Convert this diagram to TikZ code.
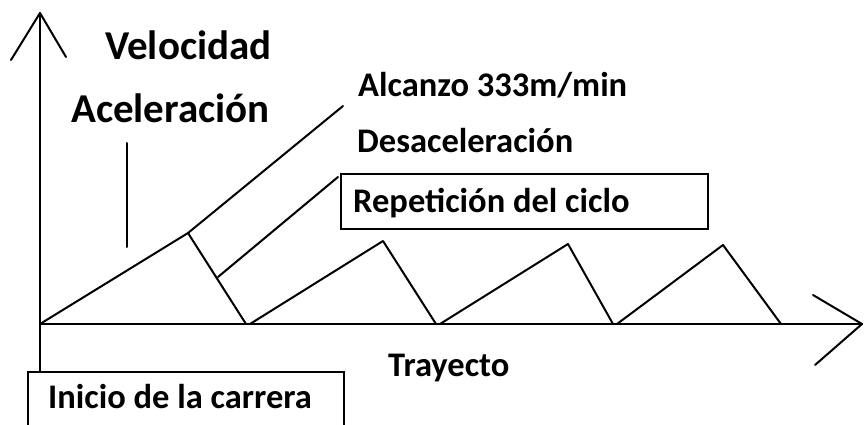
\documentclass[tikz,border=0pt]{standalone}
\usepackage{fontspec}
\setmainfont{Carlito}
\begin{document}
\begin{tikzpicture}[x=1pt,y=-1pt,
  ln/.style={line width=2pt,line cap=round,line join=round},
  big/.style={font=\bfseries\fontsize{41}{45}\selectfont,inner sep=0pt,anchor=base west},
  lbl/.style={font=\bfseries\fontsize{34.5}{38}\selectfont,inner sep=0pt,anchor=base west},
  boxed/.style={draw,line width=2pt,inner sep=0pt,anchor=north west}]
\useasboundingbox (0,0) rectangle (864,425);
\clip (0,0) rectangle (864,425);
\fill[white] (0,0) rectangle (864,425);
% axes
\coordinate (O) at (40,324);
\coordinate (Ytop) at (40,13);
\coordinate (Ybot) at (40,371);
\coordinate (Xend) at (862,324);
\draw[ln] (Ybot) -- (Ytop);
\draw[ln] (O) -- (Xend);
\coordinate (ya) at (11,60);
\coordinate (yb) at (66,57);
\draw[ln] (ya) -- (Ytop) -- (yb);
\coordinate (xa) at (813,295);
\coordinate (xb) at (815,365);
\draw[ln] (xa) -- (Xend) -- (xb);
% triangles
\coordinate (p1) at (188,233);
\coordinate (b1) at (246,324);
\coordinate (s2) at (250,324);
\coordinate (p2) at (383,241);
\coordinate (b2) at (436,324);
\coordinate (s3) at (440,324);
\coordinate (p3) at (568,244);
\coordinate (b3) at (613,324);
\coordinate (s4) at (617,324);
\coordinate (p4) at (723,245);
\coordinate (b4) at (781,324);
\draw[ln] (O) -- (p1) -- (b1);
\draw[ln] (s2) -- (p2) -- (b2);
\draw[ln] (s3) -- (p3) -- (b3);
\draw[ln] (s4) -- (p4) -- (b4);
% leader lines
\coordinate (l1) at (343,106);
\draw[ln] (p1) -- (l1);
\coordinate (d0) at (218,277);
\coordinate (d1) at (338,177);
\draw[ln] (d0) -- (d1);
\coordinate (a0) at (127,143);
\coordinate (a1) at (127,247);
\draw[ln] (a0) -- (a1);
% texts
\node[big] (vel) at (105,60) {Velocidad};
\node[big] (acc) at (71,122) {Aceleración};
\node[lbl] (alc) at (358,97) {Alcanzo 333m/min};
\node[lbl] (des) at (357,153) {Desaceleración};
\node[boxed,minimum width=367pt,minimum height=55pt] (rep) at (340,173) {};
\node[lbl] (reptxt) at (353,212) {Repetición del ciclo};
\node[lbl] (tray) at (388,376) {Trayecto};
\node[boxed,minimum width=316pt,minimum height=80pt] (ini) at (27,371) {};
\node[lbl] (initxt) at (48,408) {Inicio de la carrera};
\end{tikzpicture}
\end{document}
